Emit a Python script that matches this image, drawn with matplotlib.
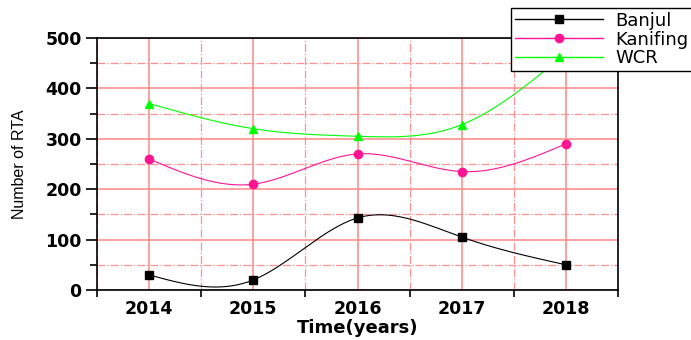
import numpy as np
import matplotlib.pyplot as plt
from matplotlib.ticker import MultipleLocator

plt.rcParams['font.family'] = ['DejaVu Sans']

years = [2014, 2015, 2016, 2017, 2018]
banjul = [30, 20, 143, 105, 50]
kanifing = [260, 210, 270, 235, 290]
wcr = [370, 320, 305, 328, 470]


def natural_spline(x, y, n=200):
    # plain natural cubic spline, no scipy needed
    x = np.asarray(x, float)
    y = np.asarray(y, float)
    k = len(x)
    h = np.diff(x)
    A = np.zeros((k, k))
    r = np.zeros(k)
    A[0, 0] = A[-1, -1] = 1
    for i in range(1, k - 1):
        A[i, i - 1] = h[i - 1]
        A[i, i] = 2 * (h[i - 1] + h[i])
        A[i, i + 1] = h[i]
        r[i] = 6 * ((y[i + 1] - y[i]) / h[i] - (y[i] - y[i - 1]) / h[i - 1])
    M = np.linalg.solve(A, r)
    xs = np.linspace(x[0], x[-1], n)
    ys = np.empty_like(xs)
    for j, t in enumerate(xs):
        i = min(np.searchsorted(x, t) - 1, k - 2)
        i = max(i, 0)
        a = x[i + 1] - t
        b = t - x[i]
        ys[j] = (M[i] * a**3 + M[i + 1] * b**3) / (6 * h[i]) \
            + (y[i] / h[i] - M[i] * h[i] / 6) * a \
            + (y[i + 1] / h[i] - M[i + 1] * h[i] / 6) * b
    return xs, ys


fig = plt.figure(figsize=(6.91, 3.40), dpi=100)
ax = fig.add_axes([97 / 691, 1 - 290 / 340, 521 / 691, 252 / 340])

series = [(banjul, 'Banjul', 'black', 's'),
          (kanifing, 'Kanifing', '#ff1493', 'o'),
          (wcr, 'WCR', '#00ff00', '^')]
for vals, name, col, mk in series:
    xs, ys = natural_spline(years, vals)
    ax.plot(xs, ys, color=col, lw=0.8, zorder=3)
    ax.plot(years, vals, ls='none', marker=mk, color=col, ms=6, zorder=4)
    ax.plot([], [], color=col, lw=1.0, marker=mk, ms=6, label=name)

ax.set_xlim(2013.5, 2018.5)
ax.set_ylim(0, 500)
ax.set_xticks(years)
ax.xaxis.set_minor_locator(MultipleLocator(0.5))
ax.yaxis.set_major_locator(MultipleLocator(100))
ax.yaxis.set_minor_locator(MultipleLocator(50))

ax.grid(which='major', color='#ff9090', lw=1.2, ls='-', zorder=0)
ax.grid(which='minor', color='#ff9090', lw=0.9, ls='-.', zorder=0)
ax.set_axisbelow(True)

ax.tick_params(which='both', direction='out', width=1.2, colors='black')
ax.tick_params(axis='y', which='major', length=8, pad=3)
ax.tick_params(axis='y', which='minor', length=5)
ax.tick_params(axis='x', which='major', length=0, pad=7)
ax.tick_params(axis='x', which='minor', length=5)
for lab in ax.get_xticklabels() + ax.get_yticklabels():
    lab.set_fontweight('bold')
    lab.set_fontsize(12.5)
for s in ax.spines.values():
    s.set_linewidth(1.2)

ax.set_xlabel('Time(years)', fontsize=13, fontweight='bold', labelpad=1)
ax.set_ylabel('Number of RTA', fontsize=11.5, family='Liberation Sans',
              labelpad=13)

leg = fig.legend(loc='upper left', bbox_to_anchor=(511 / 691, 1 - 8 / 340),
                 fontsize=13, frameon=True, fancybox=False, edgecolor='black',
                 borderpad=0.2, labelspacing=0.05, handlelength=4.9,
                 handletextpad=0.7, borderaxespad=0, framealpha=1)
leg.get_frame().set_linewidth(1.0)

fig.savefig('out.png', dpi=100)
